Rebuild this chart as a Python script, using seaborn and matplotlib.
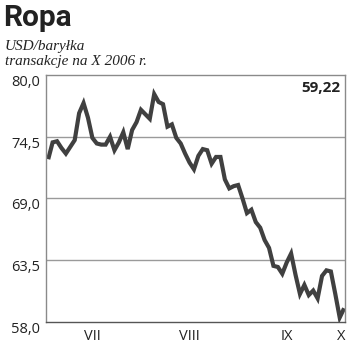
import matplotlib
matplotlib.use("Agg")
import matplotlib.pyplot as plt
import seaborn as sns
import pandas as pd

# --- data (Brent, USD/baryłka, daily, July - early October 2006) ---
prices = [72.5, 74.0, 74.1, 73.5, 73.0, 73.6, 74.2, 76.6, 77.5, 76.2,
          74.4, 73.9, 73.8, 73.8, 74.5, 73.3, 74.0, 74.9, 73.4, 75.1,
          75.8, 76.9, 76.5, 76.1, 78.3, 77.6, 77.4, 75.4, 75.6, 74.4,
          73.9, 73.0, 72.2, 71.6, 72.8, 73.4, 73.3, 72.1, 72.7, 72.7,
          70.7, 69.9, 70.1, 70.2, 69.0, 67.7, 68.0, 66.9, 66.4, 65.3,
          64.6, 63.0, 62.9, 62.3, 63.3, 64.1, 62.2, 60.5, 61.3, 60.4,
          60.8, 60.1, 62.1, 62.6, 62.5, 60.5, 58.4, 59.22]
month_labels = ["VII", "VIII", "IX", "X"]
month_days = [21, 23, 21, 3]
y_ticks = [58.0, 63.5, 69.0, 74.5, 80.0]
last_label = "59,22"
title = "Ropa"
subtitle_lines = ["USD/baryłka", "transakcje na X 2006 r."]

df = pd.DataFrame({"day": range(len(prices)), "price": prices})

sns.set_style("white")
plt.rcParams["font.family"] = ["Open Sans", "DejaVu Sans"]

fig = plt.figure(figsize=(3.5, 3.55), dpi=100)
ax = fig.add_axes([46/350, 1-322/355, 299/350, (322-75)/355])

sns.lineplot(data=df, x="day", y="price", ax=ax, color="#404040",
             linewidth=3.0, solid_joinstyle="miter", solid_capstyle="butt")

ax.set_xlim(-0.5, 67.2)
ax.set_ylim(58.0, 80.0)
ax.set_xlabel("")
ax.set_ylabel("")

# y axis (labels hang below their grid line)
ax.set_yticks(y_ticks)
ax.set_yticklabels([f"{v:.1f}".replace(".", ",") for v in y_ticks],
                   fontsize=10.5, color="#222222")
for lab in ax.get_yticklabels():
    lab.set_va("top")
ax.tick_params(axis="y", length=0, pad=4)
for v in y_ticks[1:-1]:
    ax.axhline(v, color="#9a9a9a", linewidth=1.0, zorder=0)

# x axis: month labels centered, separators as minor ticks
bounds = []
acc = 0
centers = []
for n in month_days:
    centers.append(acc - 0.5 + n / 2)
    acc += n
    bounds.append(acc - 0.5)
bounds = bounds[:-1]
centers[-1] = 66.4
ax.set_xticks(centers)
ax.set_xticklabels(month_labels, fontsize=10.5, color="#222222")
ax.tick_params(axis="x", which="major", length=0, pad=5)
ax.set_xticks(bounds, minor=True)
ax.tick_params(axis="x", which="minor", length=13, width=1.0,
               color="#333333", direction="out")
minor = ax.xaxis.get_minor_ticks()
minor[-1].tick1line.set_markersize(6)

for s in ax.spines.values():
    s.set_color("#8a8a8a")
    s.set_linewidth(1.0)
ax.spines["bottom"].set_color("#555555")

# last value label
ax.text(0.985, 0.975, last_label, transform=ax.transAxes, ha="right", va="top",
        fontsize=11, fontweight="bold", color="#222222")

# title & subtitle
fig.text(3/350, 1-26/355, title, ha="left", va="baseline", fontsize=21.5,
         fontweight="bold", color="#222222", family=["Roboto", "DejaVu Sans"])
for k, line in enumerate(subtitle_lines):
    fig.text(5/350, 1-(50 + 15.5*k)/355, line, ha="left", va="baseline",
             fontsize=11, style="italic", color="#222222",
             family=["Liberation Serif", "DejaVu Serif"])

fig.savefig("out.png", dpi=100)
